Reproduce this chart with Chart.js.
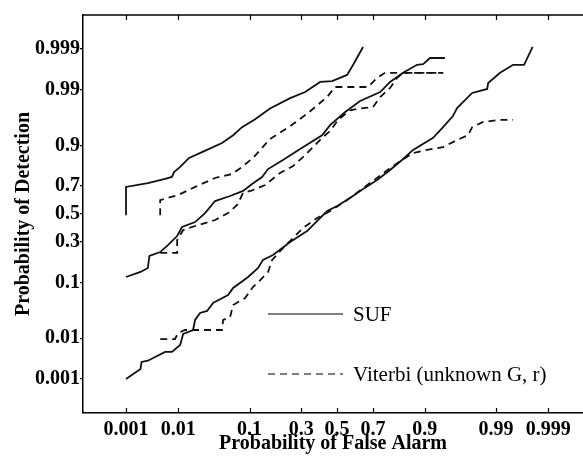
<!DOCTYPE html>
<html>
<head>
<meta charset="utf-8">
<script src="https://cdn.jsdelivr.net/npm/chart.js@4.4.1/dist/chart.umd.min.js"></script>
<style>
  html, body { margin: 0; padding: 0; background: #fff; }
  #wrap { width: 583px; height: 456px; }
</style>
</head>
<body>
<div id="wrap"><canvas id="rocChart" width="583" height="456"></canvas></div>
<script>
// tick probabilities (both axes use normal probability paper)
const tickProbs = [0.001, 0.01, 0.1, 0.3, 0.5, 0.7, 0.9, 0.99, 0.999];
const tickLabels = ['0.001', '0.01', '0.1', '0.3', '0.5', '0.7', '0.9', '0.99', '0.999'];

// SUF, upper curve
const sufTopPfa = [0.001, 0.001, 0.0028, 0.0059, 0.0078, 0.0085, 0.0108, 0.0151, 0.024, 0.046, 0.064, 0.082, 0.115, 0.163, 0.246, 0.320, 0.402, 0.471, 0.558, 0.593, 0.648];
const sufTopPd  = [0.49, 0.694, 0.719, 0.744, 0.756, 0.784, 0.811, 0.853, 0.877, 0.908, 0.930, 0.948, 0.962, 0.976, 0.985, 0.9888, 0.9933, 0.9936, 0.9954, 0.9974, 0.99912];

// Viterbi, upper curve
const vitTopPfa = [0.0048, 0.0048, 0.0100, 0.0188, 0.037, 0.062, 0.082, 0.109, 0.163, 0.246, 0.335, 0.442, 0.488, 0.675, 0.721, 0.759, 0.9397];
const vitTopPd  = [0.49, 0.603, 0.639, 0.694, 0.750, 0.773, 0.811, 0.853, 0.920, 0.950, 0.9707, 0.9858, 0.9913, 0.9913, 0.9946, 0.9959, 0.9959];

// SUF, middle curve
const sufMidPfa = [0.0010, 0.0020, 0.0028, 0.0030, 0.0048, 0.0067, 0.0096, 0.0116, 0.0188, 0.0266, 0.037, 0.0586, 0.0844, 0.1066, 0.136, 0.156, 0.214, 0.294, 0.413, 0.459, 0.547, 0.632, 0.736, 0.781, 0.833, 0.879, 0.896, 0.913, 0.943];
const sufMidPd  = [0.119, 0.139, 0.156, 0.216, 0.238, 0.281, 0.340, 0.404, 0.440, 0.507, 0.596, 0.632, 0.667, 0.713, 0.756, 0.800, 0.844, 0.888, 0.930, 0.952, 0.972, 0.9828, 0.9888, 0.9933, 0.9959, 0.9974, 0.9975, 0.99826, 0.99826];

// Viterbi, middle curve
const vitMidPfa = [0.0048, 0.0096, 0.0096, 0.0121, 0.0209, 0.037, 0.0552, 0.0716, 0.0844, 0.109, 0.146, 0.202, 0.260, 0.320, 0.413, 0.459, 0.506, 0.575, 0.632, 0.701, 0.736, 0.781, 0.810, 0.833, 0.9397];
const vitMidPd  = [0.233, 0.233, 0.313, 0.382, 0.418, 0.455, 0.507, 0.567, 0.653, 0.673, 0.706, 0.779, 0.816, 0.865, 0.923, 0.940, 0.961, 0.974, 0.976, 0.9775, 0.9858, 0.9909, 0.9946, 0.9959, 0.9959];

// SUF, lower curve
const sufLowPfa = [0.0010, 0.0020, 0.0021, 0.0028, 0.0059, 0.0078, 0.0108, 0.0121, 0.0175, 0.0188, 0.0224, 0.0285, 0.0347, 0.0552, 0.064, 0.0963, 0.1237, 0.139, 0.174, 0.246, 0.330, 0.442, 0.5, 0.575, 0.648, 0.721, 0.781, 0.829, 0.867, 0.920, 0.938, 0.955, 0.9605, 0.976, 0.986, 0.9865, 0.9915, 0.9950, 0.9969, 0.9979];
const sufLowPd  = [0.0010, 0.00185, 0.0028, 0.0030, 0.0049, 0.0049, 0.0071, 0.0123, 0.0149, 0.0236, 0.0319, 0.0347, 0.0478, 0.0646, 0.0829, 0.119, 0.156, 0.195, 0.221, 0.300, 0.375, 0.522, 0.560, 0.618, 0.680, 0.738, 0.795, 0.844, 0.885, 0.923, 0.946, 0.9667, 0.9764, 0.9883, 0.9904, 0.9929, 0.9959, 0.9974, 0.9974, 0.99912];

// Viterbi, lower curve
const vitLowPfa = [0.0048, 0.0088, 0.0100, 0.0130, 0.046, 0.0476, 0.0586, 0.064, 0.089, 0.109, 0.130, 0.156, 0.171, 0.202, 0.232, 0.309, 0.385, 0.471, 0.558, 0.685, 0.781, 0.829, 0.867, 0.906, 0.9397, 0.9605, 0.9724, 0.976, 0.9837, 0.9915, 0.9950];
const vitLowPd  = [0.0096, 0.0096, 0.0129, 0.0149, 0.0149, 0.0236, 0.0269, 0.0442, 0.0579, 0.0858, 0.108, 0.139, 0.195, 0.244, 0.287, 0.397, 0.470, 0.530, 0.603, 0.719, 0.805, 0.844, 0.873, 0.885, 0.895, 0.917, 0.930, 0.948, 0.9576, 0.961, 0.961];

// inverse of the standard normal CDF (Acklam)
function probit(p) {
    const a = [-3.969683028665376e+01, 2.209460984245205e+02, -2.759285104469687e+02, 1.383577518672690e+02, -3.066479806614716e+01, 2.506628277459239e+00];
    const b = [-5.447609879822406e+01, 1.615858368580409e+02, -1.556989798598866e+02, 6.680131188771972e+01, -1.328068155288572e+01];
    const c = [-7.784894002430293e-03, -3.223964580411365e-01, -2.400758277161838e+00, -2.549732539343734e+00, 4.374664141464968e+00, 2.938163982698783e+00];
    const d = [7.784695709041462e-03, 3.224671290700398e-01, 2.445134137142996e+00, 3.754408661907416e+00];
    const pl = 0.02425;
    if (p < pl) {
        const q = Math.sqrt(-2 * Math.log(p));
        return (((((c[0]*q+c[1])*q+c[2])*q+c[3])*q+c[4])*q+c[5]) / ((((d[0]*q+d[1])*q+d[2])*q+d[3])*q+1);
    }
    if (p > 1 - pl) {
        const q = Math.sqrt(-2 * Math.log(1 - p));
        return -(((((c[0]*q+c[1])*q+c[2])*q+c[3])*q+c[4])*q+c[5]) / ((((d[0]*q+d[1])*q+d[2])*q+d[3])*q+1);
    }
    const q = p - 0.5, r = q * q;
    return (((((a[0]*r+a[1])*r+a[2])*r+a[3])*r+a[4])*r+a[5])*q / (((((b[0]*r+b[1])*r+b[2])*r+b[3])*r+b[4])*r+1);
}

function toPoints(pfa, pd) {
    return pfa.map((x, i) => ({ x: probit(x), y: probit(pd[i]) }));
}

const SOLID = [];
const DASHED = [7, 5];

function curve(label, pfa, pd, dash) {
    return {
        label: label,
        data: toPoints(pfa, pd),
        showLine: true,
        borderColor: '#111',
        borderWidth: 1.8,
        borderDash: dash,
        pointRadius: 0,
        tension: 0,
        fill: false
    };
}

const serif = '"Liberation Serif", "Times New Roman", serif';

// inward ticks on bottom/top, top frame line, and the legend
const frameAndLegend = {
    id: 'frameAndLegend',
    afterDraw(chart) {
        const ctx = chart.ctx;
        const area = chart.chartArea;
        const xs = chart.scales.x;
        ctx.save();
        ctx.strokeStyle = '#000';
        ctx.lineWidth = 1.5;
        ctx.beginPath();
        ctx.moveTo(area.left, area.top);
        ctx.lineTo(area.right, area.top);
        ctx.stroke();
        ctx.lineWidth = 1.2;
        tickProbs.forEach(p => {
            const px = Math.round(xs.getPixelForValue(probit(p))) + 0.5;
            ctx.beginPath();
            ctx.moveTo(px, area.bottom);
            ctx.lineTo(px, area.bottom - 5);
            ctx.moveTo(px, area.top);
            ctx.lineTo(px, area.top + 5);
            ctx.stroke();
        });

        // legend: one entry per line style
        const entries = [chart.data.datasets[0], chart.data.datasets[1]];
        const lx0 = 268, lx1 = 343;
        const rows = [314, 374];
        ctx.font = '21px ' + serif;
        ctx.fillStyle = '#000';
        ctx.textBaseline = 'middle';
        entries.forEach((ds, i) => {
            ctx.lineWidth = 1.2;
            ctx.setLineDash(ds.borderDash);
            ctx.beginPath();
            ctx.moveTo(lx0, rows[i]);
            ctx.lineTo(lx1, rows[i]);
            ctx.stroke();
            ctx.setLineDash([]);
            ctx.fillText(ds.label, 353, rows[i] + 1);
        });
        ctx.restore();
    }
};

function probTicks(scale) {
    scale.ticks = tickProbs.map(p => ({ value: probit(p) }));
}

let rocCtx = document.getElementById('rocChart').getContext('2d');
// noinspection JSUnresolvedReference
let rocChart = new Chart(rocCtx, {
    type: 'scatter',
    data: {
        datasets: [
            curve('SUF', sufTopPfa, sufTopPd, SOLID),
            curve('Viterbi (unknown G, r)', vitTopPfa, vitTopPd, DASHED),
            curve('SUF', sufMidPfa, sufMidPd, SOLID),
            curve('Viterbi (unknown G, r)', vitMidPfa, vitMidPd, DASHED),
            curve('SUF', sufLowPfa, sufLowPd, SOLID),
            curve('Viterbi (unknown G, r)', vitLowPfa, vitLowPd, DASHED)
        ]
    },
    options: {
        responsive: false,
        animation: false,
        layout: { padding: { top: 15, right: 0, bottom: 0, left: 0 } },
        plugins: {
            legend: { display: false },
            tooltip: { enabled: false }
        },
        scales: {
            x: {
                type: 'linear',
                min: -3.72,
                max: 3.60,
                afterBuildTicks: probTicks,
                afterFit: s => { s.height = 43; },
                grid: { display: false, drawTicks: false },
                border: { display: true, color: '#000', width: 1.5 },
                ticks: {
                    autoSkip: false,
                    maxRotation: 0,
                    padding: 5,
                    color: '#000',
                    font: { family: serif, size: 20, weight: 'bold' },
                    callback: (v, i) => tickLabels[i]
                },
                title: {
                    display: true,
                    text: 'Probability of False Alarm',
                    color: '#000',
                    font: { family: serif, size: 20, weight: 'bold' },
                    padding: { top: 0, bottom: 0 }
                }
            },
            y: {
                type: 'linear',
                min: -3.727,
                max: 3.727,
                afterBuildTicks: probTicks,
                afterFit: s => { s.width = 83; },
                grid: { display: true, drawOnChartArea: false, drawTicks: true, tickLength: 3, color: '#000', lineWidth: 1.2 },
                border: { display: true, color: '#000', width: 1.5 },
                ticks: {
                    autoSkip: false,
                    padding: 0,
                    color: '#000',
                    font: { family: serif, size: 20, weight: 'bold' },
                    callback: (v, i) => tickLabels[i]
                },
                title: {
                    display: true,
                    text: 'Probability of Detection',
                    color: '#000',
                    font: { family: serif, size: 20, weight: 'bold' },
                    padding: { top: 12, bottom: 0 }
                }
            }
        }
    },
    plugins: [frameAndLegend]
});
</script>
</body>
</html>
